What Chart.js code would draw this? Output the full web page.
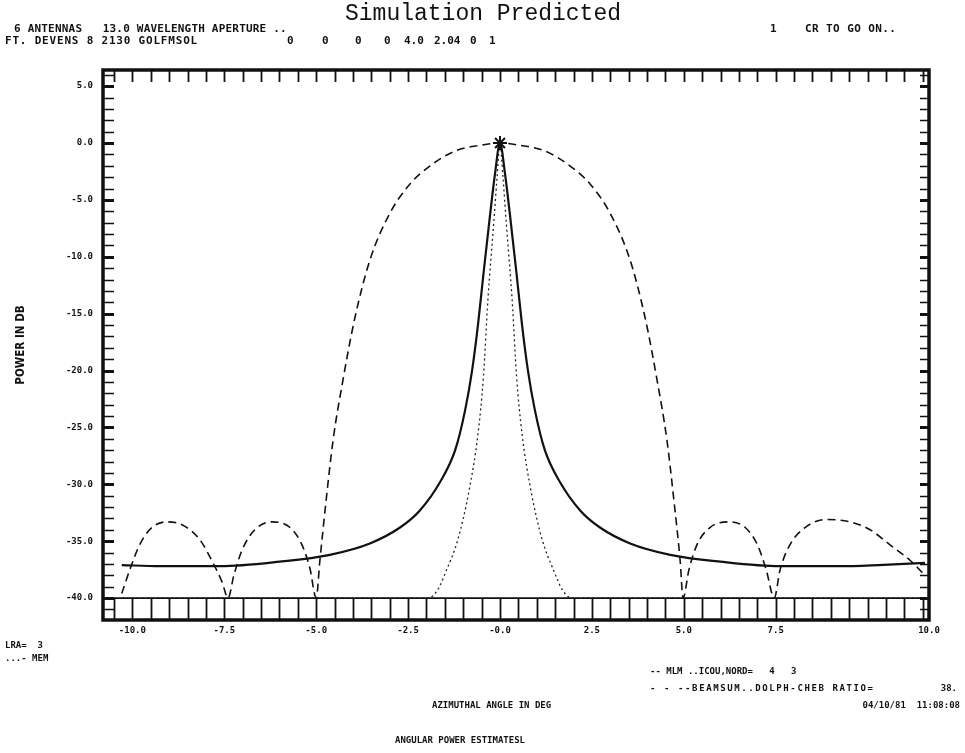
<!DOCTYPE html>
<html>
<head>
<meta charset="utf-8">
<script src="https://cdn.jsdelivr.net/npm/chart.js@4.4.1/dist/chart.umd.min.js"></script>
<style>
  html, body { margin: 0; padding: 0; background: #fff; }
  #wrap { position: relative; width: 965px; height: 753px; }
</style>
</head>
<body>
<div id="wrap"><canvas id="grafico" width="965" height="753"></canvas></div>
<script>
// angle in degrees, power in dB
const mlmAngles = [-10.29, -9.25, -7.62, -5.99, -4.63, -3.54, -2.72, -2.18, -1.63, -1.22, -0.95, -0.76, -0.6, -0.44, -0.27, -0.14,
  0, 0.14, 0.27, 0.44, 0.6, 0.76, 0.95, 1.22, 1.63, 2.18, 2.72, 3.54, 4.63, 5.99, 7.62, 9.25, 10.29, 11.56];
const mlmPower = [-37.1, -37.2, -37.2, -36.8, -36.2, -35.2, -33.8, -32.3, -29.8, -27.0, -23.5, -20.0, -16.0, -11.2, -6.3, -2.8,
  0, -2.8, -6.3, -11.2, -16.0, -20.0, -23.5, -27.0, -29.8, -32.3, -33.8, -35.2, -36.2, -36.8, -37.2, -37.2, -37.1, -36.9];

const memAngles = [-10.29, -1.95, -1.7, -1.45, -1.15, -0.85, -0.6, -0.45, -0.33, -0.17, -0.08,
  0, 0.08, 0.17, 0.33, 0.45, 0.6, 0.85, 1.15, 1.45, 1.7, 1.95, 11.56];
const memPower = [-40, -40, -39.3, -37.5, -34.9, -30.7, -25.6, -20.5, -13.8, -7, -3,
  0, -3, -7, -13.8, -20.5, -25.6, -30.7, -34.9, -37.5, -39.3, -40, -40];

const beamAngles = [-10.29, -10.07, -9.8, -9.47, -9.03, -8.57, -8.16, -7.84, -7.56, -7.4,
  -7.24, -7.02, -6.67, -6.2, -5.71, -5.39, -5.17, -5.0,
  -4.9, -4.73, -4.54, -4.27, -3.95, -3.54, -3.0, -2.45, -1.9, -1.22, -0.54,
  0, 0.54, 1.22, 1.9, 2.45, 3.0, 3.54, 3.95, 4.27, 4.54, 4.73, 4.9,
  4.98, 5.14, 5.36, 5.71, 6.2, 6.67, 7.0, 7.24, 7.46,
  7.62, 7.89, 8.3, 8.84, 9.52, 10.07, 10.6, 11.16, 11.56];
const beamPower = [-39.6, -37.5, -35.3, -33.8, -33.3, -33.7, -34.9, -36.7, -38.6, -40,
  -38, -35.8, -34.0, -33.3, -33.8, -35.3, -37.4, -40,
  -36.7, -31.4, -26.1, -20.8, -15.4, -10.3, -6.2, -3.6, -2.0, -0.7, -0.2,
  0, -0.2, -0.7, -2.0, -3.6, -6.2, -10.3, -15.4, -20.8, -26.1, -31.4, -36.7,
  -40, -37.5, -35.3, -33.8, -33.3, -33.8, -35.3, -37.5, -40,
  -37.5, -35.3, -33.8, -33.1, -33.3, -34.0, -35.3, -36.7, -38];

const powerTicks = [5, 0, -5, -10, -15, -20, -25, -30, -35, -40];
const powerLabels = ["5.0", "0.0", "-5.0", "-10.0", "-15.0", "-20.0", "-25.0", "-30.0", "-35.0", "-40.0"];
const angleTicks = [-10, -7.5, -5, -2.5, 0, 2.5, 5, 7.5];
const angleLabels = ["-10.0", "-7.5", "-5.0", "-2.5", "-0.0", "2.5", "5.0", "7.5", "10.0"];

const peakAngle = 0;
const peakPower = 0;
const floorPower = -40;

const X_MIN = -10.8, X_MAX = 11.67;
const Y_MIN = -41.93, Y_MAX = 6.42;

function pontos(angs, pots) {
  return angs.map((a, i) => ({ x: a, y: pots[i] }));
}

const CAB = "bold 11px 'DejaVu Sans Mono'";
const ROD = "bold 9px 'DejaVu Sans Mono'";
const textos = [
  { t: "Simulation Predicted", x: 483, y: 14, f: "23px 'Liberation Mono'", a: "center", s: 0 },
  { t: "6 ANTENNAS   13.0 WAVELENGTH APERTURE ..", x: 14, y: 29, f: CAB, a: "left", s: 0.2 },
  { t: "1", x: 770, y: 29, f: CAB, a: "left", s: 0 },
  { t: "CR TO GO ON..", x: 805, y: 29, f: CAB, a: "left", s: 0.4 },
  { t: "FT. DEVENS 8 2130 GOLFMSOL", x: 5, y: 41, f: CAB, a: "left", s: 0.8 },
  { t: "0", x: 287, y: 41, f: CAB, a: "left", s: 0 },
  { t: "0", x: 322, y: 41, f: CAB, a: "left", s: 0 },
  { t: "0", x: 355, y: 41, f: CAB, a: "left", s: 0 },
  { t: "0", x: 384, y: 41, f: CAB, a: "left", s: 0 },
  { t: "4.0", x: 404, y: 41, f: CAB, a: "left", s: 0 },
  { t: "2.04", x: 434, y: 41, f: CAB, a: "left", s: 0 },
  { t: "0", x: 470, y: 41, f: CAB, a: "left", s: 0 },
  { t: "1", x: 489, y: 41, f: CAB, a: "left", s: 0 },
  { t: "LRA=  3", x: 5, y: 646, f: ROD, a: "left", s: 0 },
  { t: "...- MEM", x: 5, y: 659, f: ROD, a: "left", s: 0 },
  { t: "-- MLM ..ICOU,NORD=   4   3", x: 650, y: 672, f: ROD, a: "left", s: 0 },
  { t: "- - --BEAMSUM..DOLPH-CHEB RATIO=", x: 650, y: 689, f: ROD, a: "left", s: 1.6 },
  { t: "38.", x: 957, y: 689, f: ROD, a: "right", s: 0 },
  { t: "AZIMUTHAL ANGLE IN DEG", x: 432, y: 706, f: ROD, a: "left", s: 0 },
  { t: "04/10/81  11:08:08", x: 960, y: 706, f: ROD, a: "right", s: 0 },
  { t: "ANGULAR POWER ESTIMATESL", x: 395, y: 741, f: ROD, a: "left", s: 0 },
];

// moldura com marcas, linha de -40 e textos soltos
const moldura = {
  id: "moldura",
  afterDraw(chart) {
    const { ctx, chartArea: ca, scales: { x, y } } = chart;
    ctx.save();
    ctx.strokeStyle = "#111";
    ctx.lineCap = "butt";

    // marcas esquerda / direita a cada 1 dB
    for (let v = Math.ceil(Y_MIN); v <= Math.floor(Y_MAX); v++) {
      const py = Math.round(y.getPixelForValue(v)) + 0.5;
      ctx.lineWidth = v % 5 === 0 ? 3 : 1.6;
      ctx.beginPath();
      ctx.moveTo(ca.left, py); ctx.lineTo(ca.left + 11, py);
      ctx.moveTo(ca.right, py); ctx.lineTo(ca.right - 9, py);
      ctx.stroke();
    }

    // marcas em cima e caixas embaixo a cada 0.5 grau
    const yPiso = y.getPixelForValue(floorPower);
    ctx.lineWidth = 1.8;
    for (let v = Math.ceil(X_MIN * 2) / 2; v <= X_MAX; v += 0.5) {
      const px = Math.round(x.getPixelForValue(v)) + 0.5;
      ctx.beginPath();
      ctx.moveTo(px, ca.top); ctx.lineTo(px, ca.top + 12);
      ctx.moveTo(px, ca.bottom); ctx.lineTo(px, yPiso);
      ctx.stroke();
    }
    ctx.beginPath();
    ctx.moveTo(ca.left, yPiso); ctx.lineTo(ca.right, yPiso);
    ctx.stroke();

    // borda grossa
    ctx.lineWidth = 3.5;
    ctx.strokeRect(ca.left, ca.top, ca.right - ca.left, ca.bottom - ca.top);

    // textos
    ctx.fillStyle = "#111";
    ctx.textBaseline = "middle";
    textos.forEach((s) => {
      ctx.font = s.f;
      ctx.letterSpacing = s.s + "px";
      ctx.textAlign = s.a;
      ctx.fillText(s.t, s.x, s.y);
    });
    ctx.letterSpacing = "0px";

    ctx.save();
    ctx.translate(21, 345);
    ctx.rotate(-Math.PI / 2);
    ctx.scale(0.8, 1);
    ctx.font = "bold 13px 'DejaVu Sans'";
    ctx.textAlign = "center";
    ctx.fillText("POWER IN DB", 0, 0);
    ctx.restore();

    ctx.restore();
  },
};

const ctx = document.getElementById("grafico");
new Chart(ctx, {
  type: "line",
  data: {
    datasets: [
      {
        label: "MLM",
        data: pontos(mlmAngles, mlmPower),
        borderColor: "#111",
        borderWidth: 2.2,
        pointRadius: 0,
        cubicInterpolationMode: "monotone",
      },
      {
        label: "MEM",
        data: pontos(memAngles, memPower),
        borderColor: "#222",
        borderWidth: 1.3,
        borderDash: [2, 3],
        pointRadius: 0,
        cubicInterpolationMode: "monotone",
      },
      {
        label: "BEAMSUM",
        data: pontos(beamAngles, beamPower),
        borderColor: "#111",
        borderWidth: 1.6,
        borderDash: [8, 5],
        pointRadius: 0,
        cubicInterpolationMode: "monotone",
      },
      {
        label: "pico",
        data: [{ x: peakAngle, y: peakPower }],
        showLine: false,
        pointStyle: "star",
        pointRadius: 7,
        pointBorderWidth: 2,
        borderColor: "#111",
        backgroundColor: "#111",
      },
    ],
  },
  options: {
    responsive: false,
    animation: false,
    layout: { padding: { left: 0, top: 70, right: 36, bottom: 0 } },
    plugins: { legend: { display: false }, tooltip: { enabled: false }, title: { display: false } },
    scales: {
      x: {
        type: "linear",
        min: X_MIN,
        max: X_MAX,
        grid: { display: false, drawTicks: false },
        border: { display: false },
        afterBuildTicks: (s) => {
          s.ticks = angleTicks.map((v) => ({ value: v })).concat([{ value: X_MAX }]);
        },
        afterFit: (s) => { s.height = 753 - 620; },
        ticks: {
          autoSkip: false,
          maxRotation: 0,
          padding: 5,
          color: "#111",
          font: { family: "DejaVu Sans Mono", weight: "bold", size: 9 },
          callback: (v, i) => angleLabels[i],
        },
      },
      y: {
        type: "linear",
        min: Y_MIN,
        max: Y_MAX,
        grid: { display: false, drawTicks: false },
        border: { display: false },
        afterBuildTicks: (s) => {
          s.ticks = powerTicks.map((v) => ({ value: v }));
        },
        afterFit: (s) => { s.width = 103; },
        ticks: {
          autoSkip: false,
          padding: 10,
          color: "#111",
          font: { family: "DejaVu Sans Mono", weight: "bold", size: 9 },
          callback: (v, i) => powerLabels[i],
        },
      },
    },
  },
  plugins: [moldura],
});
</script>
</body>
</html>
